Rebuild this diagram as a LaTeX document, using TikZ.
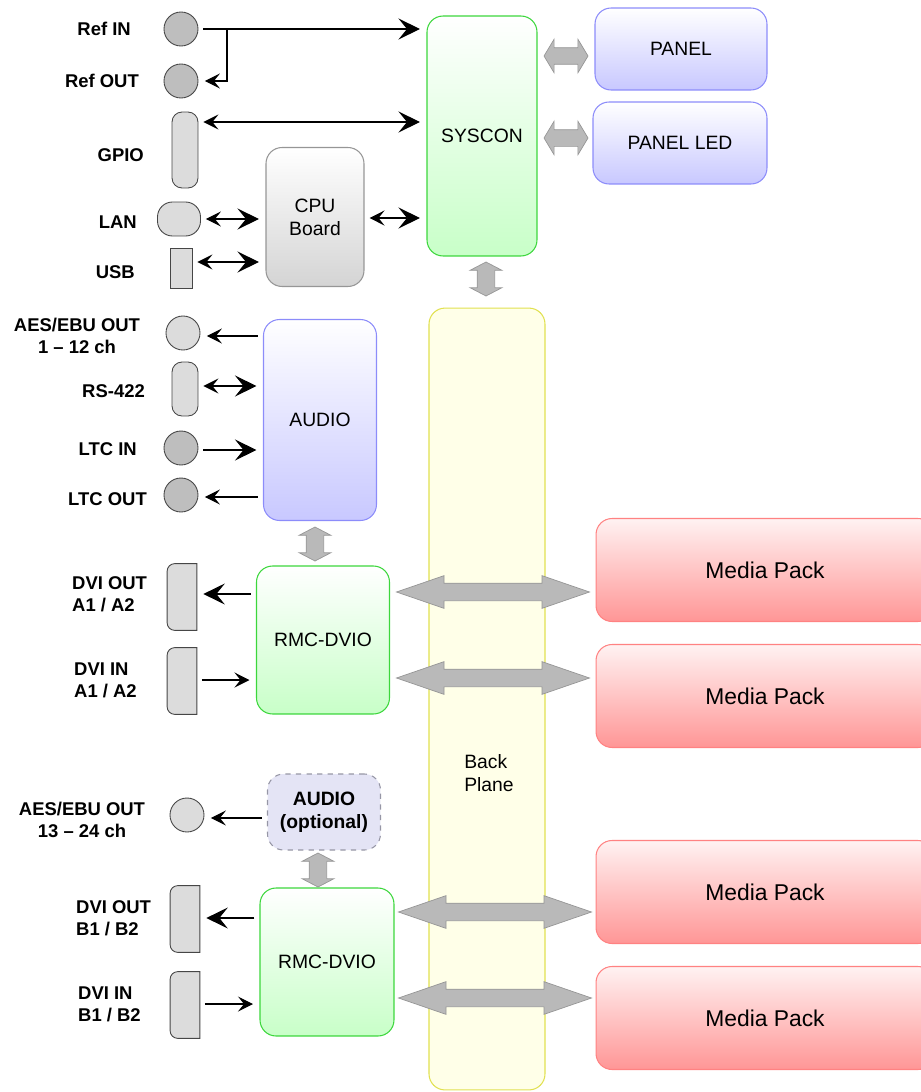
\documentclass[tikz,border=0pt]{standalone}
\usepackage{fontspec}
\setmainfont{Liberation Sans}
\usetikzlibrary{shapes.arrows,arrows.meta,calc}
\definecolor{gline}{RGB}{60,215,60}   \definecolor{gfill}{RGB}{200,255,200}
\definecolor{bline}{RGB}{140,140,250} \definecolor{bfill}{RGB}{200,200,255}
\definecolor{rline}{RGB}{255,130,130} \definecolor{rtop}{RGB}{255,242,242} \definecolor{rfill}{RGB}{255,150,150}
\definecolor{cline}{RGB}{150,150,150} \definecolor{cfill}{RGB}{212,212,212}
\definecolor{yline}{RGB}{225,225,80}  \definecolor{yfill}{RGB}{255,255,232}
\definecolor{optline}{RGB}{150,150,165} \definecolor{optfill}{RGB}{228,228,245}
\definecolor{jline}{RGB}{70,70,70}    \definecolor{jdark}{RGB}{190,190,190} \definecolor{jlight}{RGB}{220,220,220}
\definecolor{fline}{RGB}{150,150,150} \definecolor{ffill}{RGB}{185,185,185}
\tikzset{Heavy/.tip={Stealth[length=4.3mm,width=4.2mm,inset=1.7mm]},
         Light/.tip={Stealth[length=3mm,width=3mm,inset=1.2mm]}}

\begin{document}
\begin{tikzpicture}[x=0.02cm, y=-0.02cm, font=\fontsize{11}{13}\selectfont,
  box/.style={draw, rounded corners=0.32cm, line width=0.6pt, align=center},
  gbox/.style={box, draw=gline, top color=white, bottom color=gfill},
  bbox/.style={box, draw=bline, top color=white, bottom color=bfill},
  rbox/.style={box, draw=rline, top color=rtop, bottom color=rfill, font=\fontsize{13}{15}\selectfont},
  cbox/.style={box, draw=cline, top color=white, bottom color=cfill},
  jack/.style={circle, draw=jline, fill=jdark, line width=0.5pt, minimum size=0.68cm, inner sep=0pt},
  plug/.style={rectangle, draw=jline, fill=jlight, line width=0.5pt, inner sep=0pt},
  dvi/.style={minimum width=0.58cm, minimum height=1.32cm, inner sep=0pt},
  lbl/.style={font=\fontsize{10.5}{12.5}\selectfont\bfseries, align=center},
  fat/.style={double arrow, draw=fline, fill=ffill, inner sep=0pt, line width=0.4pt},
  wide/.style={fat, minimum height=3.86cm, minimum width=0.64cm, inner ysep=0.17cm, double arrow head extend=0.15cm, double arrow tip angle=38},
  stub/.style={fat, minimum height=0.88cm, minimum width=0.66cm, inner ysep=0.16cm, double arrow head extend=0.17cm, double arrow tip angle=118},
  riser/.style={fat, rotate=90, minimum height=0.68cm, minimum width=0.62cm, inner ysep=0.17cm, double arrow head extend=0.14cm, double arrow tip angle=125},
  wire/.style={line width=0.6pt, shorten <=0.1cm, shorten >=0.13cm}]
\useasboundingbox (0,0) rectangle (920,1092);
\node[box, draw=yline, fill=yfill, minimum width=2.32cm, minimum height=15.64cm] (bp) at (487,699) {};
\node[align=left] (bptext) at (489,773) {Back\\Plane};
\node[gbox, minimum width=2.2cm, minimum height=4.8cm] (syscon) at (482,136) {SYSCON};
\node[bbox, minimum width=3.44cm, minimum height=1.64cm] (panel) at (681,49) {PANEL};
\node[bbox, minimum width=3.48cm, minimum height=1.64cm] (panelled) at (680,143) {PANEL LED};
\node[cbox, minimum width=1.96cm, minimum height=2.78cm] (cpu) at (315,217) {CPU\\Board};
\node[bbox, minimum width=2.26cm, minimum height=4.02cm] (audio) at (320,420) {AUDIO};
\node[gbox, minimum width=2.66cm, minimum height=2.96cm] (rmca) at (323,640) {RMC-DVIO};
\node[box, dashed, draw=optline, fill=optfill, minimum width=2.26cm, minimum height=1.52cm, font=\fontsize{11}{13}\selectfont\bfseries] (audioopt) at (324,812) {AUDIO\\(optional)};
\node[gbox, minimum width=2.68cm, minimum height=2.96cm] (rmcb) at (327,962) {RMC-DVIO};
\foreach \y/\n in {570/mpa, 696/mpb, 892/mpc, 1018/mpd}
  \node[rbox, minimum width=6.76cm, minimum height=2.06cm] (\n) at (765,\y) {Media Pack};
\node[stub] (fpanel) at (566,56) {};
\node[stub] (fled) at (566,138) {};
\node[riser] (fbus) at (486,279) {};
\node[riser] (faudio) at (315,544) {};
\node[riser] (fopt) at (318,870) {};
\foreach \x/\y/\n in {493/592/fma, 493/678/fmb, 495/912/fmc, 495/998/fmd}
  \node[wide] (\n) at (\x,\y) {};
\node[jack] (refin) at (181,29) {};
\node[jack] (refout) at (181,81) {};
\node[plug, rounded corners=0.2cm, minimum width=0.52cm, minimum height=1.52cm] (gpio) at (185,150) {};
\node[plug, rounded corners=0.3cm, minimum width=0.86cm, minimum height=0.68cm] (lan) at (179,219) {};
\node[plug, minimum width=0.44cm, minimum height=0.8cm] (usb) at (181,268) {};
\node[jack, fill=jlight] (aesa) at (183,333) {};
\node[plug, rounded corners=0.2cm, minimum width=0.52cm, minimum height=1.08cm] (rs) at (185,389) {};
\node[jack] (ltcin) at (181,448) {};
\node[jack] (ltcout) at (181,495) {};
\node[jack, fill=jlight] (aesb) at (187,815) {};
\foreach \x/\y/\n in {182/597/dviao, 182/681/dviai, 185/919/dvibo, 185/1005/dvibi} {
  \node[dvi] (\n) at (\x,\y) {};
  \filldraw[draw=jline, fill=jlight, line width=0.5pt] (\n.north east) -- ([xshift=0.15cm]\n.north west) arc[start angle=90, end angle=180, radius=0.15cm] -- ([yshift=0.15cm]\n.south west) arc[start angle=180, end angle=270, radius=0.15cm] -- (\n.south east) -- cycle;
}
\foreach \x/\y/\t in {137/29/Ref IN, 145/81/Ref OUT, 150/155/GPIO, 143/222/LAN, 141/272/USB, 151/391/RS-422, 143/449/LTC IN, 153/499/LTC OUT}
  \node[lbl, anchor=east] (lab\y) at (\x,\y) {\t};
\node[lbl] (labaesa) at (77,336) {AES/EBU OUT\\1 -- 12 ch};
\node[lbl] (labaesb) at (82,820) {AES/EBU OUT\\13 -- 24 ch};
\node[lbl, align=left, anchor=west] (labdviao) at (66,594) {DVI OUT\\A1 / A2};
\node[lbl, align=left, anchor=west] (labdviai) at (68,680) {DVI IN\\A1 / A2};
\node[lbl, align=left, anchor=west] (labdvibo) at (70,918) {DVI OUT\\B1 / B2};
\node[lbl, align=left, anchor=west] (labdvibi) at (72,1004) {DVI IN\\B1 / B2};
\coordinate (tap) at (227,29);
\draw[wire, -Heavy] (refin.east) -- (syscon.west |- refin);
\draw[wire, shorten <=0pt, -Light] (tap) |- (refout.east);
\draw[wire, Light-Heavy] (gpio.east |- 0,122) -- (syscon.west |- 0,122);
\draw[wire, Light-Heavy] (lan.east) -- (cpu.west |- lan.east);
\draw[wire, Light-Heavy] (usb.east |- 0,262) -- (cpu.west |- 0,262);
\draw[wire, Light-Heavy] (cpu.east |- 0,218) -- (syscon.west |- 0,218);
\draw[wire, -Light] (audio.west |- 0,336) -- (aesa.east |- 0,336);
\draw[wire, Light-Heavy] (rs.east |- 0,386) -- (audio.west |- 0,386);
\draw[wire, -Heavy] (ltcin.east |- 0,450) -- (audio.west |- 0,450);
\draw[wire, -Light] (audio.west |- 0,497) -- (ltcout.east |- 0,497);
\draw[wire, -Heavy] (rmca.west |- 0,594) -- (dviao.east |- 0,594);
\draw[wire, -Light] (dviai.east |- 0,680) -- (rmca.west |- 0,680);
\draw[wire, -Light] (audioopt.west |- 0,818) -- (aesb.east |- 0,818);
\draw[wire, -Heavy] (rmcb.west |- 0,918) -- (dvibo.east |- 0,918);
\draw[wire, -Light] (dvibi.east |- 0,1004) -- (rmcb.west |- 0,1004);
\end{tikzpicture}
\end{document}
